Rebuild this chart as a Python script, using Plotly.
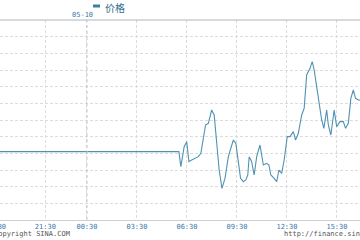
import plotly.graph_objects as go

# trading-minute index since 18:30 (previous day) and price
minute = [0, 661, 668, 680, 689, 697, 707, 731, 740, 752, 757, 767, 779, 788, 797,
          806, 816, 827, 839, 857, 866, 875, 883, 893, 902, 909, 914, 923, 932, 941,
          953, 965, 977, 985, 992, 1004, 1013, 1021, 1031, 1040, 1051, 1061, 1073,
          1081, 1091, 1103, 1112, 1121, 1133, 1141, 1148, 1157, 1165, 1175, 1183,
          1193, 1199, 1208, 1220, 1229, 1241, 1253, 1261, 1271, 1280, 1289, 1297,
          1307, 1313]
price = [73.61, 73.61, 73.52, 73.64, 73.67, 73.55, 73.56, 73.58, 73.60, 73.72, 73.77,
         73.78, 73.86, 73.83, 73.67, 73.50, 73.39, 73.45, 73.58, 73.68, 73.66, 73.54,
         73.45, 73.43, 73.44, 73.47, 73.58, 73.55, 73.47, 73.58, 73.65, 73.53, 73.54,
         73.53, 73.47, 73.45, 73.43, 73.50, 73.48, 73.56, 73.70, 73.70, 73.73, 73.68,
         73.72, 73.83, 73.87, 74.07, 74.11, 74.15, 74.10, 74.00, 73.90, 73.80, 73.75,
         73.86, 73.77, 73.71, 73.86, 73.76, 73.79, 73.79, 73.75, 73.78, 73.93, 73.98,
         73.93, 73.92, 73.92]

tick_minutes = [0, 180, 330, 510, 690, 870, 1050, 1230]
tick_labels = ["18:30", "21:30", "00:30", "03:30", "06:30", "09:30", "12:30", "15:30"]
day_break_label = "05-10"
day_break_minute = tick_minutes[2]
x_range = [16.9, 1313]
y_range = [73.2, 74.4]
y_step = 0.1

line_color = "#4f92b2"
label_color = "#3a78a8"
mono = "DejaVu Sans Mono"

fig = go.Figure()
fig.add_trace(go.Scatter(x=minute, y=price, mode="lines",
                         line=dict(color=line_color, width=1.1), name="价格",
                         showlegend=False, hoverinfo="skip"))

W, H = 360, 240
ml, mr, mt, mb = 0, 0, 20, 20
pw = W - ml - mr
ph = H - mt - mb


def xpaper(m):
    return (m - x_range[0]) / (x_range[1] - x_range[0])


fig.update_layout(
    width=W, height=H,
    margin=dict(l=ml, r=mr, t=mt, b=mb, pad=0),
    paper_bgcolor="white", plot_bgcolor="white",
    xaxis=dict(range=x_range, tickmode="array", tickvals=tick_minutes, ticktext=tick_labels,
               showgrid=True, gridcolor="#dcdcdc", griddash="3px,2px", gridwidth=1,
               showline=True, linecolor="#cfcfcf", linewidth=1, ticks="",
               tickfont=dict(family=mono, size=7, color=label_color), zeroline=False),
    yaxis=dict(range=y_range, dtick=y_step, tick0=y_range[0], showticklabels=False,
               showgrid=True, gridcolor="#dcdcdc", griddash="3px,2px", gridwidth=1,
               zeroline=False, showline=False, ticks=""),
    shapes=[
        dict(type="line", xref="paper", yref="paper", x0=0, x1=1, y0=1, y1=1,
             line=dict(color="#b4b4b4", width=1)),
        dict(type="line", xref="x", yref="paper", x0=day_break_minute, x1=day_break_minute,
             y0=0, y1=1, line=dict(color="#c4c4c4", width=1, dash="dot")),
        dict(type="line", xref="paper", yref="paper", x0=93 / pw, x1=100 / pw,
             y0=1 + 14 / ph, y1=1 + 14 / ph, line=dict(color="#3f7fa3", width=3)),
    ],
    annotations=[
        dict(text="价格", xref="paper", yref="paper", x=103 / pw, y=1 + 13 / ph,
             xanchor="left", yanchor="middle", showarrow=False,
             font=dict(family="Noto Sans CJK SC", size=10, color="#336e8e")),
        dict(text=day_break_label, xref="x", yref="paper", x=day_break_minute, y=1 + 5 / ph,
             xanchor="right", yanchor="middle", xshift=8, showarrow=False,
             font=dict(family=mono, size=7, color=label_color)),
        dict(text=tick_labels[0], xref="paper", yref="paper", x=xpaper(tick_minutes[0]),
             y=-7 / ph, xanchor="center", yanchor="middle", showarrow=False,
             font=dict(family=mono, size=7, color=label_color)),
        dict(text="Copyright SINA.COM", xref="paper", yref="paper", x=-8 / pw, y=-14 / ph,
             xanchor="left", yanchor="middle", showarrow=False,
             font=dict(family=mono, size=7, color="#555555")),
        dict(text="http://finance.sina.com.cn", xref="paper", yref="paper", x=282 / pw,
             y=-14 / ph, xanchor="left", yanchor="middle", showarrow=False,
             font=dict(family=mono, size=7, color="#555555")),
    ],
)

fig.write_html("out.html")
